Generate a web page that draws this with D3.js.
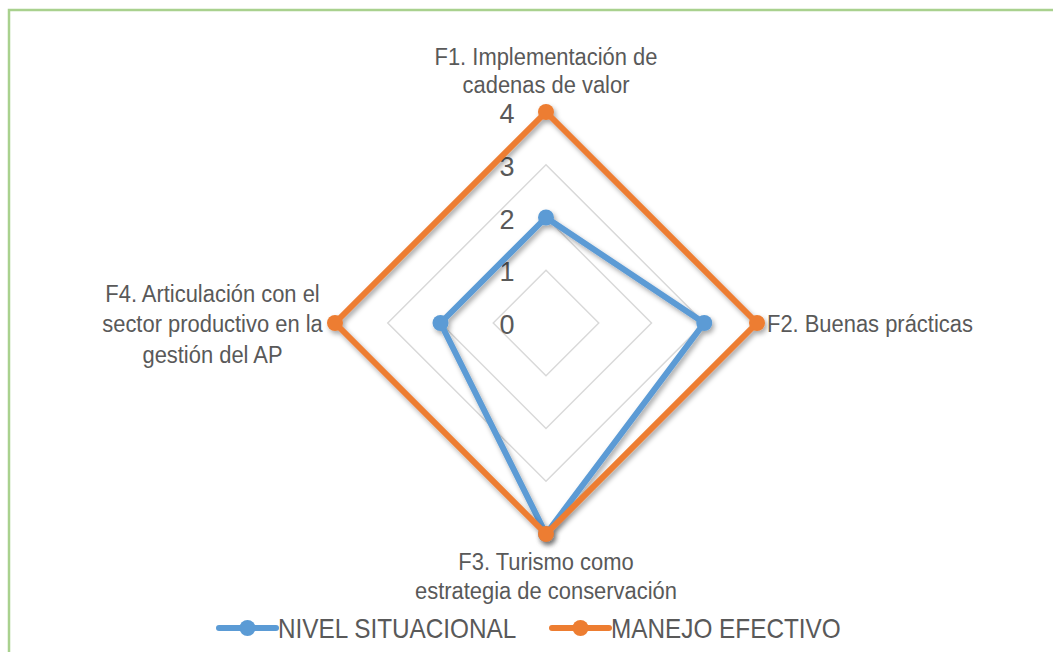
<!DOCTYPE html>
<html><head><meta charset="utf-8">
<script src="https://cdn.jsdelivr.net/npm/d3@7"></script>
<style>body{margin:0;background:#fff;}svg{display:block;}</style>
</head><body>
<svg id="c" width="1053" height="652"></svg>
<script>
const categories = [
  ["F1. Implementación de","cadenas de valor"],
  ["F2. Buenas prácticas"],
  ["F3. Turismo como","estrategia de conservación"],
  ["F4. Articulación con el","sector productivo en la","gestión del AP"]
];
const seriesNames = ["NIVEL SITUACIONAL","MANEJO EFECTIVO"];
const nivelSituacional = [2,3,4,2];
const manejoEfectivo = [4,4,4,4];
const tickValues = [0,1,2,3,4];
const colors = ["#5b9bd5","#ed7d31"];

const svg = d3.select("#c");
const cx = 546, cy = 323;
const r = d3.scaleLinear().domain([0,4]).range([0,211]);
const ang = d3.scaleLinear().domain([0,4]).range([0,2*Math.PI]);
const pt = (i,v)=>[cx + r(v)*Math.sin(ang(i)), cy - r(v)*Math.cos(ang(i))];
const font = "'Liberation Sans', Arial, sans-serif";
const narrowLabel = 0.895;
const narrowLegend = 0.885;

// frame
svg.append("path").attr("d","M9,652 V10 H1053").attr("fill","none").attr("stroke","#a9d18e").attr("stroke-width",2.5);

const defs = svg.append("defs");
const f = defs.append("filter").attr("id","sh").attr("x","-20%").attr("y","-20%").attr("width","140%").attr("height","140%");
f.append("feDropShadow").attr("dx",2).attr("dy",3).attr("stdDeviation",2.5).attr("flood-color","#000").attr("flood-opacity",0.35);

// grid
tickValues.slice(1).forEach(t=>{
  const pts = d3.range(4).map(i=>pt(i,t));
  svg.append("polygon").attr("points",pts.map(p=>p.join(",")).join(" "))
    .attr("fill","none").attr("stroke","#d9d9d9").attr("stroke-width",1.5);
});

// tick labels
svg.selectAll("text.tick").data(tickValues).enter().append("text")
  .attr("x",cx-39).attr("y",d=>cy - r(d)+11)
  .attr("text-anchor","middle").attr("font-family",font)
  .attr("font-size",27).attr("fill","#595959").text(d=>d);

// series
const line = d3.line().curve(d3.curveLinearClosed);
[nivelSituacional, manejoEfectivo].forEach((s,k)=>{
  const pts = s.map((v,i)=>pt(i,v));
  const g = svg.append("g").attr("filter","url(#sh)");
  g.append("path").attr("d",line(pts)).attr("fill","none").attr("stroke",colors[k])
    .attr("stroke-width",6).attr("stroke-linejoin","round");
  g.selectAll("circle").data(pts).enter().append("circle")
    .attr("cx",d=>d[0]).attr("cy",d=>d[1]).attr("r",8).attr("fill",colors[k]);
});

// category labels
const labelPos = [
  {x:546, y:65, anchor:"middle", dy:28.5},
  {x:767, y:332, anchor:"start", dy:30},
  {x:546, y:570, anchor:"middle", dy:29.5},
  {x:212.5, y:302, anchor:"middle", dy:30.5}
];
categories.forEach((lines,i)=>{
  const p = labelPos[i];
  const g = svg.append("g").attr("transform",`translate(${p.x},${p.y}) scale(${narrowLabel},1)`);
  const t = g.append("text").attr("x",0).attr("y",0).attr("text-anchor",p.anchor)
    .attr("font-family",font).attr("font-size",24.5).attr("fill","#595959");
  lines.forEach((l,j)=>t.append("tspan").attr("x",0).attr("dy",j?p.dy:0).text(l));
});

// legend
const leg = [{x:219},{x:552}];
seriesNames.forEach((n,k)=>{
  const g = svg.append("g").attr("transform",`translate(${leg[k].x},628)`);
  g.append("line").attr("x1",0).attr("x2",57).attr("stroke",colors[k]).attr("stroke-width",6).attr("stroke-linecap","round");
  g.append("circle").attr("cx",28.5).attr("r",8).attr("fill",colors[k]);
  g.append("g").attr("transform",`translate(59,9.5) scale(${narrowLegend},1)`)
    .append("text").attr("x",0).attr("y",0).attr("font-family",font).attr("font-size",27.5).attr("fill","#595959").text(n);
});
</script>
</body></html>
